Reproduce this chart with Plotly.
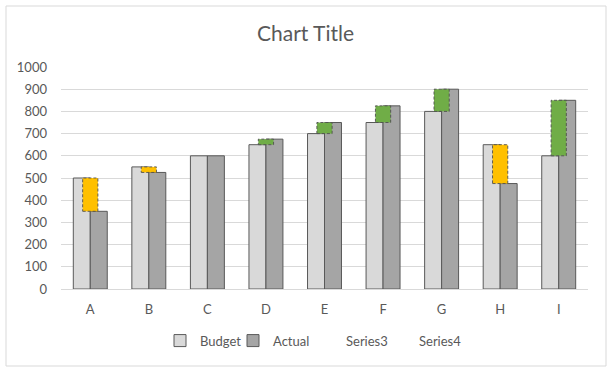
import plotly.graph_objects as go

categories = ["A", "B", "C", "D", "E", "F", "G", "H", "I"]
budget = [500, 550, 600, 650, 700, 750, 800, 650, 600]
actual = [350, 525, 600, 675, 750, 825, 900, 475, 850]
y_ticks = [0, 100, 200, 300, 400, 500, 600, 700, 800, 900, 1000]

FONT = "Lato, Open Sans, sans-serif"
TXT = "#595959"
xs = list(range(len(categories)))
BW = 0.29   # bar width in category units
VW = 0.26   # variance box width

fig = go.Figure()
fig.add_trace(go.Bar(x=xs, y=budget, name="Budget", width=BW, offset=-BW,
                     marker=dict(color="#D9D9D9", line=dict(color="#595959", width=1))))
fig.add_trace(go.Bar(x=xs, y=actual, name="Actual", width=BW, offset=0,
                     marker=dict(color="#A5A5A5", line=dict(color="#595959", width=1))))

var_base = [min(b, a) for b, a in zip(budget, actual)]
var_h = [abs(a - b) for b, a in zip(budget, actual)]
var_col = ["#70AD47" if a > b else "#FFC000" for b, a in zip(budget, actual)]
fig.add_trace(go.Bar(x=xs, y=var_h, base=var_base, name="Series3", width=VW, offset=-VW / 2,
                     marker=dict(color=var_col, line=dict(width=0)), showlegend=False))
# legend-only entries without swatches (last one is an empty spacer)
for nm in ["Series3", "Series4", "\u00a0"]:
    fig.add_trace(go.Bar(x=xs, y=[None] * len(xs), name=nm,
                         marker=dict(color="rgba(0,0,0,0)", line=dict(width=0))))

# dashed outlines of the variance boxes
ox, oy = [], []
for x, b0, h in zip(xs, var_base, var_h):
    if h == 0:
        continue
    x0, x1 = x - VW / 2, x + VW / 2
    ox += [x0, x1, x1, x0, x0, None]
    oy += [b0, b0, b0 + h, b0 + h, b0, None]
fig.add_trace(go.Scatter(x=ox, y=oy, mode="lines", showlegend=False, hoverinfo="skip",
                         line=dict(color="#505050", width=0.9, dash="3px,2px")))

fig.update_layout(
    width=611, height=370,
    margin=dict(l=61, r=23, t=67, b=81),
    paper_bgcolor="white", plot_bgcolor="white",
    barmode="overlay",
    font=dict(family=FONT, color=TXT, size=13),
    title=dict(text="Chart Title", x=0.5, xanchor="center", y=0.908, yanchor="middle",
               font=dict(size=21, color=TXT, family=FONT)),
    legend=dict(orientation="h", x=(160 - 61) / 527, xanchor="left", y=-0.165, yanchor="top",
                font=dict(size=13, color=TXT), itemwidth=30, traceorder="normal",
                entrywidth=28, entrywidthmode="pixels"),
    xaxis=dict(range=[-0.5, len(xs) - 0.5], tickmode="array", tickvals=xs, ticktext=categories,
               showgrid=False, showline=True, linecolor="#D9D9D9", linewidth=1, ticks="",
               zeroline=False, tickfont=dict(size=13, color=TXT), fixedrange=True,
               ticklabelstandoff=8),
    yaxis=dict(range=[0, 1000], tickvals=y_ticks, showgrid=True, gridcolor="#D9D9D9",
               gridwidth=1, zeroline=False, showline=False, ticks="", ticklabelstandoff=13,
               tickfont=dict(size=13, color=TXT), fixedrange=True),
    shapes=[dict(type="rect", xref="paper", yref="paper",
                 x0=-55 / 527, x1=1 + 18 / 527, y0=-77 / 222, y1=1 + 61 / 222,
                 line=dict(color="#D9D9D9", width=1), fillcolor="rgba(0,0,0,0)", layer="below")],
)

fig.write_html("out.html", config={"displayModeBar": False},
               post_script="document.body.style.margin='0px';document.body.style.overflow='hidden';")
